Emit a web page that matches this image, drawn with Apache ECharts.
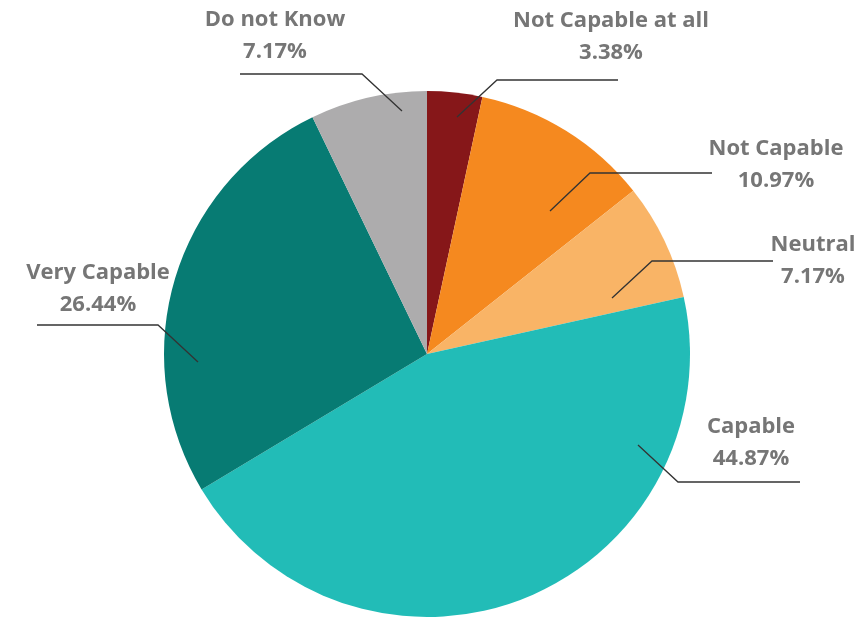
<!DOCTYPE html>
<html>
<head>
<meta charset="utf-8">
<script src="https://cdn.jsdelivr.net/npm/echarts@6/dist/echarts.min.js"></script>
<style>html,body{margin:0;padding:0;background:#fff}#c{width:862px;height:618px}</style>
</head>
<body>
<div id="c"></div>
<script>
const categories = ['Not Capable at all', 'Not Capable', 'Neutral', 'Capable', 'Very Capable', 'Do not Know'];
const percentages = [3.38, 10.97, 7.17, 44.87, 26.44, 7.17];

// Layout only: label centre and leader-line points (pixels)
const sliceColors = ['#861719', '#F5891F', '#F9B466', '#22BCB7', '#077B73', '#ADACAD'];
const labelLayoutPx = [
  {x: 611, y: 37,  line: [[457,117],[497,80],[618,80]]},
  {x: 776, y: 165, line: [[550,211],[590,173],[712,173]]},
  {x: 813, y: 261, line: [[612,298],[652,261],[773,261]]},
  {x: 751, y: 443, line: [[638,445],[678,482],[800,482]]},
  {x: 98,  y: 289, line: [[198,362],[158,325],[37,325]]},
  {x: 275, y: 36,  line: [[402,111],[362,74],[240,74]]}
];

const pieData = categories.map((n, i) => ({name: n, value: percentages[i]}));

const chart = echarts.init(document.getElementById('c'), null, {renderer: 'canvas'});
chart.setOption({
  animation: false,
  backgroundColor: '#ffffff',
  series: [{
    type: 'pie',
    z: 2,
    center: [427, 354],
    radius: 263,
    startAngle: 90,
    clockwise: true,
    data: pieData.map((d, i) => ({...d, itemStyle: {color: sliceColors[i]}})),
    itemStyle: {borderWidth: 0},
    label: {show: false},
    labelLine: {show: false},
    emphasis: {disabled: true},
    silent: true
  }, {
    type: 'pie',
    z: 5,
    center: [427, 354],
    radius: 263,
    startAngle: 90,
    clockwise: true,
    avoidLabelOverlap: false,
    data: pieData,
    itemStyle: {color: 'rgba(0,0,0,0)', borderWidth: 0},
    label: {
      show: true,
      position: 'outside',
      formatter: p => p.name + '\n' + p.value.toFixed(2) + '%',
      color: '#767676',
      fontFamily: 'Open Sans',
      fontWeight: 'bold',
      fontSize: 22,
      lineHeight: 32,
      align: 'center'
    },
    labelLine: {
      show: true,
      showAbove: true,
      length: 40,
      length2: 120,
      lineStyle: {color: '#333333', width: 1.3}
    },
    labelLayout: function (params) {
      const L = labelLayoutPx[params.dataIndex];
      return {
        x: L.x,
        y: L.y,
        align: 'center',
        verticalAlign: 'middle',
        labelLinePoints: L.line
      };
    },
    emphasis: {disabled: true},
    silent: true
  }]
});
</script>
</body>
</html>
